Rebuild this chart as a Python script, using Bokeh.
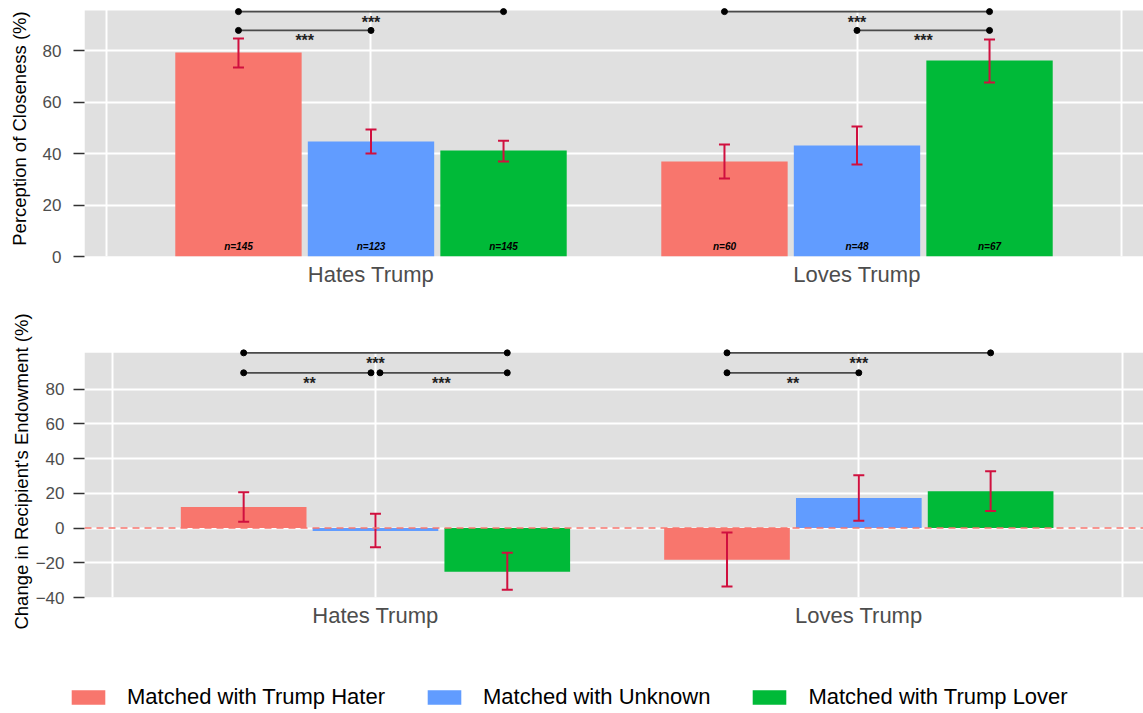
from bokeh.plotting import figure
from bokeh.models import (ColumnDataSource, FixedTicker, BoxAnnotation,
                          Span, Legend, LegendItem, Range1d)
from bokeh.layouts import column
from bokeh.embed import file_html
from bokeh.resources import INLINE
from bokeh.core.properties import value

# ---------------- data ----------------
groups = ["Hates Trump", "Loves Trump"]
series = ["Matched with Trump Hater", "Matched with Unknown", "Matched with Trump Lover"]
colors = ["#F8766D", "#619CFF", "#00BA38"]

# Panel 1: perception of closeness (%), per group -> per series
close_mean = [[79.2, 44.7, 41.2], [36.9, 43.1, 76.1]]
close_low = [[73.4, 40.0, 36.9], [30.3, 35.7, 67.6]]
close_high = [[84.7, 49.3, 45.0], [43.5, 50.5, 84.3]]
sample_n = [[145, 123, 145], [60, 48, 67]]

# Panel 2: change in recipient's endowment (%)
endow_mean = [[12.1, -1.7, -25.2], [-18.2, 17.3, 21.3]]
endow_low = [[3.7, -11.1, -35.5], [-33.6, 4.2, 9.8]]
endow_high = [[20.6, 8.2, -14.2], [-2.5, 30.5, 32.7]]

# significance brackets: (group, from series, to series, height, label)
close_sig = [(0, 0, 2, 95.1, "***"), (0, 0, 1, 87.8, "***"),
             (1, 0, 2, 95.1, "***"), (1, 1, 2, 87.8, "***")]
endow_sig = [(0, 0, 2, 101.0, "***"), (0, 0, 1, 89.5, "**"), (0, 1, 2, 89.5, "***"),
             (1, 0, 2, 101.0, "***"), (1, 0, 1, 89.5, "**")]

close_ticks = [0, 20, 40, 60, 80]
endow_ticks = [-40, -20, 0, 20, 40, 60, 80]

# ---------------- style ----------------
FONT = "Liberation Sans"
PANEL = "#E0E0E0"
ERR = "#D0103F"
STEP = 0.2727
BAR_W = 0.26
VGRID = [-0.545, 0, 1, 1.545]
W = 1143


def make_panel(mean, low, high, sig, ticks, x_range, y_range, panel_top, ylabel,
               height, border_left, border_top, border_bottom,
               tick_standoff, label_standoff, n=None, zero_line=False):
    p = figure(width=W, height=height, x_range=Range1d(*x_range),
               y_range=Range1d(*y_range), output_backend="svg", toolbar_location=None,
               min_border_left=border_left, min_border_right=0,
               min_border_top=border_top, min_border_bottom=border_bottom,
               background_fill_color="white", border_fill_color="white",
               outline_line_color=None)
    p.add_layout(BoxAnnotation(top=panel_top, fill_color=PANEL, fill_alpha=1,
                               line_color=None, level="image"))
    p.ygrid.ticker = FixedTicker(ticks=ticks)
    p.xgrid.ticker = FixedTicker(ticks=VGRID)
    for g in (p.xgrid, p.ygrid):
        g.grid_line_color = "white"
        g.grid_line_width = 2
        g.minor_grid_line_color = None

    xs, tops, lows, highs, cols, labs = [], [], [], [], [], []
    for gi in range(len(groups)):
        for si in range(len(series)):
            xs.append(gi + (si - 1) * STEP)
            tops.append(mean[gi][si])
            lows.append(low[gi][si])
            highs.append(high[gi][si])
            cols.append(colors[si])
            labs.append("n=%d" % n[gi][si] if n else "")
    src = ColumnDataSource(dict(x=xs, top=tops, lo=lows, hi=highs, color=cols, nlab=labs))
    p.vbar(x="x", top="top", bottom=0, width=BAR_W, fill_color="color",
           line_color=None, source=src)

    if zero_line:
        p.add_layout(Span(location=0, dimension="width", line_color="#F8766D",
                          line_dash="7 5", line_width=1.5))

    if n:
        p.text(x="x", y=3.9, text="nlab", source=src, text_font=value(FONT),
               text_font_style="bold italic", text_font_size="10px",
               text_align="center", text_baseline="middle", text_color="black")

    # error bars
    p.segment(x0="x", y0="lo", x1="x", y1="hi", source=src, line_color=ERR, line_width=2)
    p.scatter(x="x", y="lo", source=src, marker="dash", size=11, line_color=ERR, line_width=2)
    p.scatter(x="x", y="hi", source=src, marker="dash", size=11, line_color=ERR, line_width=2)

    # significance brackets
    ends = {}
    for (g, a, b, lvl, _) in sig:
        ends.setdefault((g, lvl), []).append((a, b))
    x0s, x1s, ys, mids, txt = [], [], [], [], []
    for (g, a, b, lvl, lab) in sig:
        xa, xb = g + (a - 1) * STEP, g + (b - 1) * STEP
        others = [e for e in ends[(g, lvl)] if e != (a, b)]
        if any(o[0] == b for o in others):
            xb -= 0.0093
        if any(o[1] == a for o in others):
            xa += 0.0093
        x0s.append(xa); x1s.append(xb); ys.append(lvl)
        mids.append((g + (a - 1) * STEP + g + (b - 1) * STEP) / 2)
        txt.append(lab)
    p.segment(x0=x0s, y0=ys, x1=x1s, y1=ys, line_color="#4A4A4A", line_width=1.8)
    p.scatter(x=x0s + x1s, y=ys + ys, size=6, color="black")
    p.text(x=mids, y=ys, text=txt, text_font=value(FONT), text_font_style="bold",
           text_font_size="16px", text_align="center", text_baseline="top",
           y_offset=2, text_color="#222222")

    # axes
    ya = p.yaxis[0]
    ya.ticker = FixedTicker(ticks=ticks)
    ya.major_tick_out = 11
    ya.major_tick_in = 0
    ya.minor_tick_out = 0
    ya.minor_tick_in = 0
    ya.major_tick_line_color = "#333333"
    ya.major_tick_line_width = 1.5
    ya.axis_line_color = None
    ya.major_label_text_font = FONT
    ya.major_label_text_font_size = "17px"
    ya.major_label_text_color = "#4D4D4D"
    ya.major_label_standoff = tick_standoff
    ya.axis_label = ylabel
    ya.axis_label_text_font = FONT
    ya.axis_label_text_font_size = "18.5px"
    ya.axis_label_text_font_style = "normal"
    ya.axis_label_text_color = "black"
    ya.axis_label_standoff = label_standoff

    xa = p.xaxis[0]
    xa.ticker = FixedTicker(ticks=[0, 1])
    xa.major_label_overrides = {0: groups[0], 1: groups[1]}
    xa.major_tick_out = 0
    xa.major_tick_in = 0
    xa.minor_tick_out = 0
    xa.minor_tick_in = 0
    xa.axis_line_color = None
    xa.major_label_text_font = FONT
    xa.major_label_text_font_size = "22px"
    xa.major_label_text_color = "#4D4D4D"
    xa.major_label_standoff = 5
    return p


p1 = make_panel(close_mean, close_low, close_high, close_sig, close_ticks,
                (-0.5895, 1.5895), (0, 99.42), 95.5, "Perception of Closeness (%)",
                height=300, border_left=84, border_top=0, border_bottom=44,
                tick_standoff=12, label_standoff=10, n=sample_n)
p2 = make_panel(endow_mean, endow_low, endow_high, endow_sig, endow_ticks,
                (-0.602, 1.589), (-40, 105.24), 101.0, "Change in Recipient's Endowment (%)",
                height=352, border_left=84, border_top=45, border_bottom=55,
                tick_standoff=9, label_standoff=1, zero_line=True)

# legend strip
lg = figure(width=W, height=61, x_range=Range1d(0, 1), y_range=Range1d(0, 1),
            output_backend="svg", toolbar_location=None, min_border=0,
            min_border_left=0, min_border_right=0, min_border_top=0, min_border_bottom=0,
            x_axis_location=None, y_axis_location=None, outline_line_color=None)
lg.grid.visible = False
items = []
for s, c in zip(series, colors):
    r = lg.vbar(x=[-5], top=[-5], bottom=[-6], width=0.1, fill_color=c, line_color=None)
    items.append(LegendItem(label=s, renderers=[r]))
legend = Legend(items=items, orientation="horizontal", location=(67, 3),
                glyph_width=42, glyph_height=18, label_standoff=18, spacing=38,
                padding=0, margin=0, border_line_color=None, background_fill_alpha=0,
                label_text_font=FONT, label_text_font_size="22px",
                label_text_color="black")
lg.add_layout(legend)

layout = column(column(p1, p2), lg)
open("out.html", "w").write(file_html(layout, INLINE))
